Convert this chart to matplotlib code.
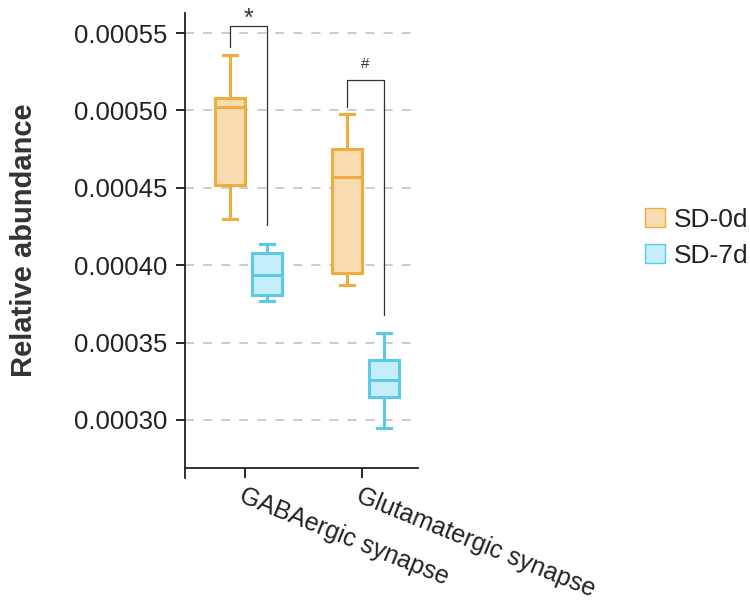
# box plot: SD-0d vs SD-7d relative abundance

import matplotlib
matplotlib.use("Agg")
import matplotlib.pyplot as plt
from matplotlib.patches import Patch

plt.rcParams["font.family"] = ["Liberation Sans", "DejaVu Sans"]

kategoriler = ["GABAergic synapse", "Glutamatergic synapse"]
gruplar = ["SD-0d", "SD-7d"]

# whislo, q1, med, q3, whishi per category
sd0_alt   = [0.000430, 0.000387]
sd0_q1    = [0.000452, 0.000395]
sd0_med   = [0.000502, 0.000457]
sd0_q3    = [0.000508, 0.000475]
sd0_ust   = [0.000536, 0.000498]

sd7_alt   = [0.000377, 0.000295]
sd7_q1    = [0.000381, 0.000315]
sd7_med   = [0.000394, 0.000326]
sd7_q3    = [0.000408, 0.000339]
sd7_ust   = [0.000414, 0.000356]

isaretler = ["*", "#"]
# bracket: top, left leg end, right leg end
parantez_ust = [0.0005547, 0.000520]
parantez_sol = [0.000541, 0.000502]
parantez_sag = [0.000426, 0.000368]

yticks = [0.00030, 0.00035, 0.00040, 0.00045, 0.00050, 0.00055]

RENKLER = {
    "SD-0d": ("#F0AD3F", "#F8DDB2"),
    "SD-7d": ("#5CC9EA", "#C4EEF9"),
}
KAYMA = {"SD-0d": -0.13, "SD-7d": 0.185}
GENISLIK = 0.256

fig = plt.figure(figsize=(7.5, 6.08), dpi=100)
ax = fig.add_axes([0.2467, 0.2303, 0.3107, 0.7484])

veriler = {
    "SD-0d": (sd0_alt, sd0_q1, sd0_med, sd0_q3, sd0_ust),
    "SD-7d": (sd7_alt, sd7_q1, sd7_med, sd7_q3, sd7_ust),
}

for y in yticks:
    ax.axhline(y, color="#C8C8C8", lw=1.3, ls=(0, (5, 5)), zorder=0)

for grup in gruplar:
    alt, q1, med, q3, ust = veriler[grup]
    kenar, dolgu = RENKLER[grup]
    stats = []
    for i in range(len(kategoriler)):
        stats.append(dict(whislo=alt[i], q1=q1[i], med=med[i], q3=q3[i],
                          whishi=ust[i], fliers=[]))
    pos = [i + KAYMA[grup] for i in range(len(kategoriler))]
    ax.bxp(stats, positions=pos, widths=GENISLIK, patch_artist=True,
           showfliers=False, capwidths=0.12,
           boxprops=dict(facecolor=dolgu, edgecolor=kenar, linewidth=2.2),
           medianprops=dict(color=kenar, linewidth=2.2),
           whiskerprops=dict(color=kenar, linewidth=2.2),
           capprops=dict(color=kenar, linewidth=2.2),
           manage_ticks=False, zorder=3)

# significance brackets
for i, isaret in enumerate(isaretler):
    x0 = i + KAYMA["SD-0d"]
    x1 = i + KAYMA["SD-7d"]
    ax.plot([x0, x0, x1, x1],
            [parantez_sol[i], parantez_ust[i], parantez_ust[i], parantez_sag[i]],
            color="#333333", lw=0.9, zorder=4, clip_on=False)
    if isaret == "*":
        ax.text((x0 + x1) / 2, parantez_ust[i], isaret, ha="center",
                va="baseline", color="#333333", fontsize=18, clip_on=False)
    else:
        ax.text((x0 + x1) / 2, parantez_ust[i] + 0.0000075, isaret,
                ha="center", va="baseline", color="#333333", fontsize=11,
                clip_on=False)

ax.set_xlim(-0.513, 1.479)
ax.set_ylim(0.000269, 0.000563)
ax.set_yticks(yticks)
ax.yaxis.set_major_formatter(plt.FuncFormatter(lambda v, _: f"{v:.5f}"))
ax.set_xticks(range(len(kategoriler)))
ax.set_xticklabels(kategoriler, rotation=-22, ha="left", va="top",
                   rotation_mode="anchor")

ax.tick_params(axis="y", length=6.5, width=1.2, pad=6, labelsize=18.5,
               labelcolor="#222222")
ax.tick_params(axis="x", length=7, width=1.2, pad=4, labelsize=18,
               labelcolor="#222222")

ax.spines[["top", "right"]].set_visible(False)
for s in ["left", "bottom"]:
    ax.spines[s].set_linewidth(1.3)
    ax.spines[s].set_color("#222222")
# left spine pokes below the x axis
ax.plot([0, 0], [0, -0.022], transform=ax.transAxes, color="#222222",
        lw=1.3, clip_on=False)

ax.set_ylabel("Relative abundance", fontsize=21, fontweight="bold",
              color="#333333")
ax.yaxis.set_label_coords(-0.631, 0.5)

handles = [Patch(facecolor=RENKLER[g][1], edgecolor=RENKLER[g][0], lw=1,
                 label=g) for g in gruplar]
fig.legend(handles=handles, loc="upper left", bbox_to_anchor=(0.86, 0.658),
           frameon=False, fontsize=19, handlelength=0.76, handleheight=0.72,
           handletextpad=0.34, labelspacing=0.45, borderpad=0,
           borderaxespad=0, labelcolor="#222222")

plt.savefig("out.png", dpi=100)
